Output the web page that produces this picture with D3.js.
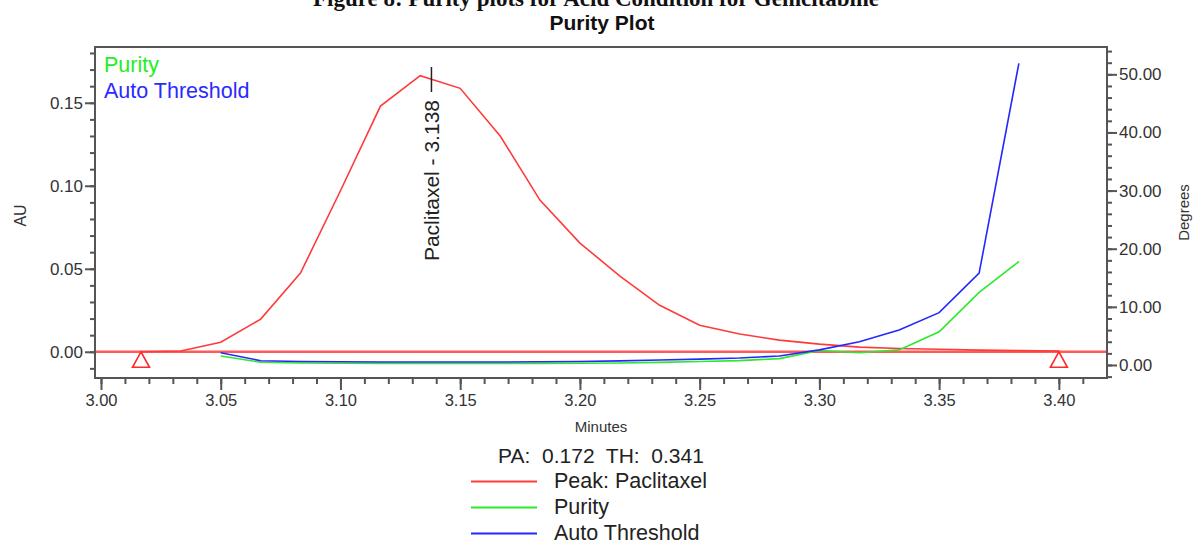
<!DOCTYPE html>
<html>
<head>
<meta charset="utf-8">
<script src="https://cdn.jsdelivr.net/npm/d3@7"></script>
<style>
  html, body { margin: 0; padding: 0; background: #fff; }
  svg { display: block; font-family: "Liberation Sans", Arial, sans-serif; }
</style>
</head>
<body>
<svg id="chart" width="1194" height="542"></svg>
<script>
// ---- data ----
const peakTimes = [3.0167, 3.0333, 3.05, 3.0667, 3.0833, 3.10, 3.1167, 3.1333, 3.15, 3.1667, 3.1833, 3.20,
                   3.2167, 3.2333, 3.25, 3.2667, 3.2833, 3.30, 3.3167, 3.3333, 3.35, 3.3667, 3.3833, 3.40];
const peakAU = [0.0, 0.0005, 0.0057, 0.0197, 0.0474, 0.097, 0.148, 0.1663, 0.1587, 0.130, 0.0914, 0.0655,
                0.0456, 0.028, 0.016, 0.0107, 0.007, 0.0046, 0.0028, 0.002, 0.0015, 0.001, 0.0007, 0.0004];
const purityTimes = [3.05, 3.0667, 3.0833, 3.10, 3.1167, 3.1333, 3.15, 3.1667, 3.1833, 3.20, 3.2167, 3.2333,
                     3.25, 3.2667, 3.2833, 3.30, 3.3167, 3.3333, 3.35, 3.3667, 3.3833];
const purityDeg = [1.55, 0.46, 0.35, 0.3, 0.27, 0.25, 0.25, 0.25, 0.27, 0.3, 0.35, 0.45,
                   0.6, 0.75, 1.1, 2.5, 2.1, 2.6, 5.7, 12.5, 17.8];
const thresholdDeg = [2.1, 0.74, 0.6, 0.55, 0.5, 0.5, 0.5, 0.5, 0.55, 0.6, 0.7, 0.85,
                      1.0, 1.2, 1.55, 2.6, 4.0, 6.0, 9.0, 15.8, 51.9];
const baselineTimes = [2.9975, 3.4201];
const baselineAU = [0, 0];
const markerTimes = [3.0167, 3.40];
const peakLabelTime = 3.138;
const peakLabel = "Paclitaxel - 3.138";
const xTicks = [3.00, 3.05, 3.10, 3.15, 3.20, 3.25, 3.30, 3.35, 3.40];
const auTicks = [0.00, 0.05, 0.10, 0.15];
const degTicks = [0, 10, 20, 30, 40, 50];
const captionText = "Figure 8: Purity plots for Acid Condition for Gemcitabine";
const titleText = "Purity Plot";
const statsText = "PA:\u00a0 0.172\u00a0 TH:\u00a0 0.341";
const legendNames = ["Peak: Paclitaxel", "Purity", "Auto Threshold"];
const legendColors = ["#ff3a3a", "#2ee82e", "#2626ff"];

// ---- layout ----
const L = 95, R = 1107, T = 47, B = 378;
const svg = d3.select("#chart");
const x = d3.scaleLinear().domain([2.9975, 3.4201]).range([L, R]);
const yAU = d3.scaleLinear().domain([-0.0158, 0.1836]).range([B, T]);
const yDeg = d3.scaleLinear().domain([-2.24, 54.7]).range([B, T]);
const axisColor = "#555";
const textColor = "#333";

// caption (partially cut at top, as in the source)
svg.append("text").attr("x", 596).attr("y", 6).attr("text-anchor", "middle")
  .attr("font-family", "Liberation Serif, Times New Roman, serif").attr("font-weight", "bold")
  .attr("font-size", 23).attr("fill", "#111").text(captionText);

// title
svg.append("text").attr("x", 602).attr("y", 30).attr("text-anchor", "middle")
  .attr("font-weight", "bold").attr("font-size", 21).attr("fill", "#111").text(titleText);

// axes helpers
function styleAxis(g) {
  g.select(".domain").remove();
  g.selectAll("line").attr("stroke", axisColor).attr("stroke-width", 2);
  g.selectAll("text").attr("fill", textColor).attr("font-family", "Liberation Sans, Arial, sans-serif");
}
const minorX = d3.range(0, 42).map(i => 3.0 + i * 0.01);
const minorAU = d3.range(-1, 19).map(i => i * 0.01);
const minorDeg = d3.range(-1, 28).map(i => i * 2);

// x axis
svg.append("g").attr("transform", `translate(0,${B})`)
  .call(d3.axisBottom(x).tickValues(minorX).tickSize(6).tickFormat(""))
  .call(styleAxis);
svg.append("g").attr("transform", `translate(0,${B})`)
  .call(d3.axisBottom(x).tickValues(xTicks).tickSize(12).tickPadding(4).tickFormat(d3.format(".2f")))
  .call(styleAxis)
  .call(g => g.selectAll("text").attr("font-size", 16.5));

// left axis
svg.append("g").attr("transform", `translate(${L},0)`)
  .call(d3.axisLeft(yAU).tickValues(minorAU).tickSize(5).tickFormat(""))
  .call(styleAxis);
svg.append("g").attr("transform", `translate(${L},0)`)
  .call(d3.axisLeft(yAU).tickValues(auTicks).tickSize(10).tickPadding(2).tickFormat(d3.format(".2f")))
  .call(styleAxis)
  .call(g => g.selectAll("text").attr("font-size", 17));

// right axis
svg.append("g").attr("transform", `translate(${R},0)`)
  .call(d3.axisRight(yDeg).tickValues(minorDeg).tickSize(5).tickFormat(""))
  .call(styleAxis);
svg.append("g").attr("transform", `translate(${R},0)`)
  .call(d3.axisRight(yDeg).tickValues(degTicks).tickSize(10).tickPadding(2).tickFormat(d3.format(".2f")))
  .call(styleAxis)
  .call(g => g.selectAll("text").attr("font-size", 17));

// axis titles
svg.append("text").attr("transform", `translate(26,${(T + B) / 2 + 3}) rotate(-90)`)
  .attr("text-anchor", "middle").attr("font-size", 16).attr("fill", textColor).text("AU");
svg.append("text").attr("transform", `translate(1189,${(T + B) / 2}) rotate(-90)`)
  .attr("text-anchor", "middle").attr("font-size", 15).attr("fill", textColor).text("Degrees");
svg.append("text").attr("x", 601).attr("y", 432).attr("text-anchor", "middle")
  .attr("font-size", 15).attr("fill", textColor).text("Minutes");

// plot area
const plot = svg.append("g");
plot.append("defs").append("clipPath").attr("id", "clip")
  .append("rect").attr("x", L).attr("y", T).attr("width", R - L).attr("height", B - T);
const inner = plot.append("g").attr("clip-path", "url(#clip)");

// baseline
inner.append("path")
  .datum(baselineTimes.map((t, i) => [t, baselineAU[i]]))
  .attr("d", d3.line().x(d => x(d[0])).y(d => yAU(d[1])))
  .attr("stroke", "#ff5a5a").attr("stroke-width", 2.5).attr("fill", "none");

// peak
inner.append("path")
  .datum(peakTimes.map((t, i) => [t, peakAU[i]]))
  .attr("d", d3.line().x(d => x(d[0])).y(d => yAU(d[1])))
  .attr("stroke", legendColors[0]).attr("stroke-width", 1.6).attr("fill", "none");

// purity
inner.append("path")
  .datum(purityTimes.map((t, i) => [t, purityDeg[i]]))
  .attr("d", d3.line().x(d => x(d[0])).y(d => yDeg(d[1])))
  .attr("stroke", legendColors[1]).attr("stroke-width", 1.6).attr("fill", "none");

// threshold
inner.append("path")
  .datum(purityTimes.map((t, i) => [t, thresholdDeg[i]]))
  .attr("d", d3.line().x(d => x(d[0])).y(d => yDeg(d[1])))
  .attr("stroke", legendColors[2]).attr("stroke-width", 1.6).attr("fill", "none");

// peak start/end markers
inner.selectAll("path.marker").data(markerTimes).enter().append("path").attr("class", "marker")
  .attr("d", t => { const cx = x(t), cy = yAU(0); return `M${cx},${cy} L${cx - 8.5},${cy + 15.5} L${cx + 8.5},${cy + 15.5} Z`; })
  .attr("stroke", "#ff2a2a").attr("stroke-width", 1.6).attr("fill", "none");

// peak label
const px = x(peakLabelTime);
inner.append("line").attr("x1", px).attr("x2", px).attr("y1", 67).attr("y2", 92)
  .attr("stroke", "#222").attr("stroke-width", 1.5);
inner.append("text").attr("transform", `translate(${px + 7.5},100) rotate(-90)`)
  .attr("text-anchor", "end").attr("font-size", 21).attr("fill", "#222").text(peakLabel);

// inner legend
inner.append("text").attr("x", 104).attr("y", 71.5).attr("font-size", 21.5).attr("fill", "#22ee22").text("Purity");
inner.append("text").attr("x", 104).attr("y", 97.5).attr("font-size", 21.5).attr("fill", "#2a2aff").text("Auto Threshold");

// frame
svg.append("rect").attr("x", L).attr("y", T).attr("width", R - L).attr("height", B - T)
  .attr("fill", "none").attr("stroke", axisColor).attr("stroke-width", 2);

// bottom legend
svg.append("text").attr("x", 601).attr("y", 463).attr("text-anchor", "middle")
  .attr("font-size", 21).attr("fill", "#222").text(statsText);
const lg = svg.append("g");
legendNames.forEach((n, i) => {
  const yy = 481.5 + i * 26;
  lg.append("line").attr("x1", 471).attr("x2", 537).attr("y1", yy).attr("y2", yy)
    .attr("stroke", legendColors[i]).attr("stroke-width", 1.8);
  lg.append("text").attr("x", 554).attr("y", yy + 6.5).attr("font-size", 21.5).attr("fill", "#222").text(n);
});
</script>
</body>
</html>
